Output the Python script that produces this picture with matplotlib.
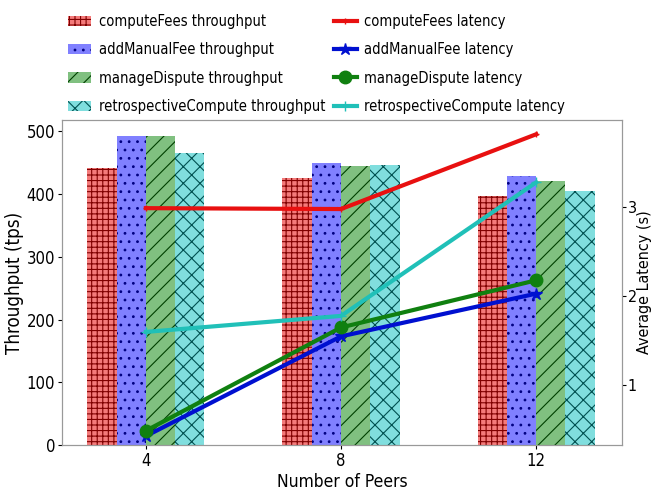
import numpy as np
import matplotlib
matplotlib.use('Agg')
import matplotlib.pyplot as plt
from matplotlib import font_manager

names = {f.name for f in font_manager.fontManager.ttflist}
if 'Liberation Sans Narrow' in names:
    plt.rcParams['font.family'] = ['Liberation Sans Narrow', 'DejaVu Sans']
else:
    plt.rcParams['font.family'] = ['DejaVu Sans']
    plt.rcParams['font.stretch'] = 'condensed'
plt.rcParams['hatch.linewidth'] = 0.8

peers = ['4', '8', '12']
functions = ['computeFees', 'addManualFee', 'manageDispute', 'retrospectiveCompute']

throughput_compute = [441, 425, 397]
throughput_manual = [492, 449, 428]
throughput_dispute = [492, 445, 420]
throughput_retro = [466, 447, 405]

latency_compute = [2.99, 2.98, 3.82]
latency_manual = [0.43, 1.55, 2.03]
latency_dispute = [0.49, 1.65, 2.18]
latency_retro = [1.60, 1.78, 3.28]

throughputs = [throughput_compute, throughput_manual, throughput_dispute, throughput_retro]
latencies = [latency_compute, latency_manual, latency_dispute, latency_retro]

bar_faces = ['#f47a7a', '#8080ff', '#80c080', '#80dede']
bar_edges = ['#800000', '#000080', '#004000', '#005050']
hatches = ['+++', '..', '//', 'xx']
line_colors = ['#e81010', '#0010d0', '#108010', '#20c0b8']
markers = ['+', '*', 'o', '+']
marker_sizes = [5, 9, 9, 7]

x = np.arange(len(peers))
width = 0.15

fig = plt.figure(figsize=(6.59, 5.0), dpi=100)
ax = fig.add_axes([0.094, 0.11, 0.85, 0.65])
ax2 = ax.twinx()

bar_handles = []
for i in range(4):
    b = ax.bar(x + (i - 1.5) * width, throughputs[i], width, color=bar_faces[i],
               edgecolor=bar_edges[i], linewidth=0, hatch=hatches[i],
               label=functions[i] + ' throughput')
    bar_handles.append(b)

line_handles = []
for i in range(4):
    l, = ax2.plot(x, latencies[i], color=line_colors[i], linewidth=3,
                  marker=markers[i], markersize=marker_sizes[i],
                  label=functions[i] + ' latency')
    line_handles.append(l)

ax.set_xticks(x)
ax.set_xticklabels(peers)
ax.set_xlim(-0.43, 2.44)
ax.set_ylim(0, 518)
ax2.set_ylim(0.33, 3.98)
ax2.set_yticks([1, 2, 3])

ax.set_xlabel('Number of Peers', fontsize=12.5, labelpad=2)
ax.set_ylabel('Throughput (tps)', fontsize=13.5, labelpad=2)
ax2.set_ylabel('Average Latency (s)', fontsize=11.5, labelpad=0)
ax.tick_params(labelsize=12, length=3, pad=2)
ax2.tick_params(labelsize=11.5, length=3, pad=1)

for a in (ax, ax2):
    for s in a.spines.values():
        s.set_color('#999999')

handles = bar_handles + line_handles
fig.legend(handles, [h.get_label() for h in handles], ncol=2, loc='upper left',
           bbox_to_anchor=(0.09, 0.99), frameon=False, fontsize=10.5,
           labelspacing=0.92, columnspacing=0.6, handlelength=1.6,
           handletextpad=0.5, borderaxespad=0.2)

fig.savefig('out.png', dpi=100)
